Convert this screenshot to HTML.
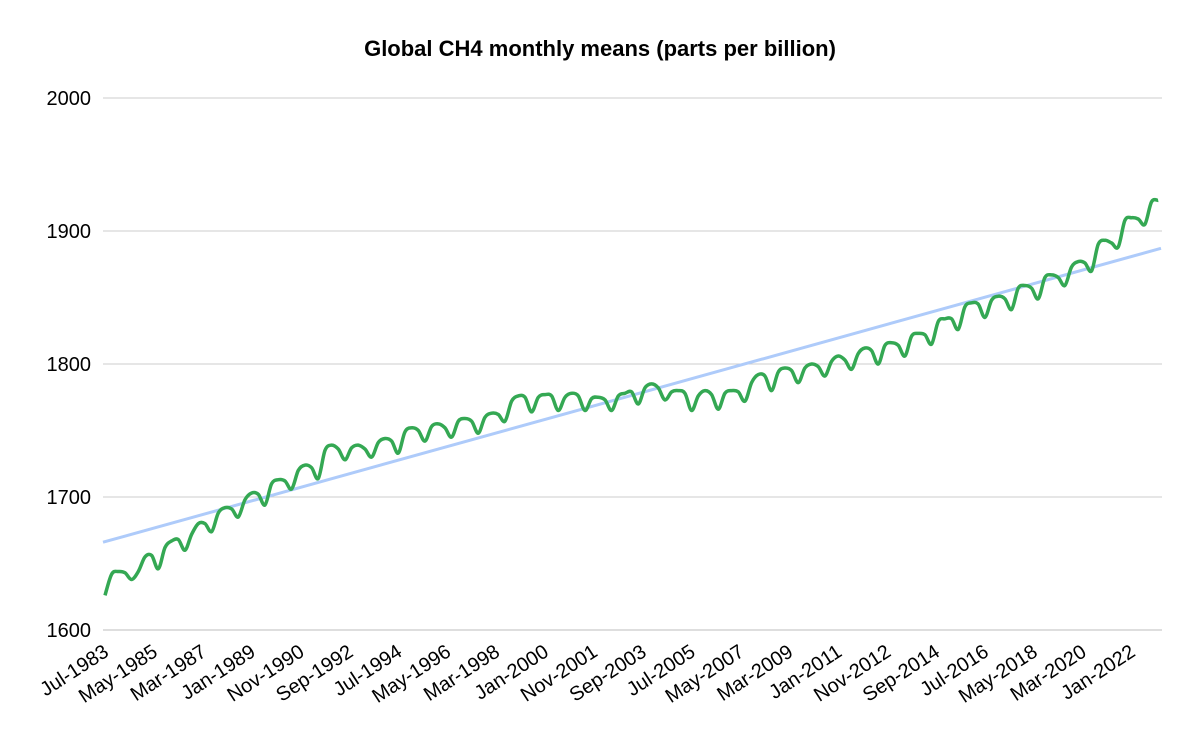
<!DOCTYPE html>
<html><head><meta charset="utf-8"><style>
html,body{margin:0;padding:0;background:#fff;}
svg{display:block;font-family:"Liberation Sans",Arial,sans-serif;}
</style></head><body>
<svg id="chart" width="1200" height="742" viewBox="0 0 1200 742">
<text x="600" y="56" text-anchor="middle" font-size="22" font-weight="bold" fill="#000">Global CH4 monthly means (parts per billion)</text>
<g id="grid"></g>
<g id="ylab"></g>
<g id="xlab"></g>
<g id="series"></g>
</svg>
<script>
const yTicks=[1600,1700,1800,1900,2000];
const xLabels=["Jul-1983","May-1985","Mar-1987","Jan-1989","Nov-1990","Sep-1992","Jul-1994","May-1996","Mar-1998","Jan-2000","Nov-2001","Sep-2003","Jul-2005","May-2007","Mar-2009","Jan-2011","Nov-2012","Sep-2014","Jul-2016","May-2018","Mar-2020","Jan-2022"];
// quarterly samples (Jan, Apr, Jul, Oct) starting Jul-1983
const ch4Values=[1626,1642,
1644,1643,1638,1644, 1655,1656,1646,1662, 1667,1668,1660,1672, 1680,1680,1674,1688,
1692,1691,1685,1698, 1703,1702,1694,1710, 1713,1712,1706,1720, 1724,1722,1714,1735,
1739,1736,1728,1737, 1739,1736,1730,1741, 1744,1742,1733,1749, 1752,1750,1742,1753,
1755,1752,1745,1757, 1759,1757,1748,1760, 1763,1762,1757,1772, 1776,1775,1764,1775,
1777,1776,1765,1775, 1778,1776,1765,1774, 1775,1773,1765,1776, 1778,1779,1770,1782,
1785,1782,1773,1779, 1780,1778,1765,1776, 1780,1777,1766,1778, 1780,1779,1772,1786,
1792,1791,1780,1794, 1797,1795,1786,1797, 1800,1798,1791,1802, 1806,1803,1796,1808,
1812,1810,1800,1814, 1816,1814,1806,1821, 1823,1822,1815,1832, 1834,1834,1826,1843,
1846,1845,1835,1848, 1851,1849,1841,1857, 1859,1857,1849,1865, 1867,1865,1859,1873,
1877,1876,1870,1890, 1893,1891,1888,1908, 1910,1909,1905,1922, 1923];
const trendValues=[1666,1887];
const NS="http://www.w3.org/2000/svg";
const X0=105,PXM=2.222,Y0=630,PPB=1.33;
function xm(m){return X0+m*PXM;}
function yv(v){return Y0-(v-1600)*PPB;}
const grid=document.getElementById('grid'),ylab=document.getElementById('ylab'),xlab=document.getElementById('xlab'),ser=document.getElementById('series');
yTicks.forEach(t=>{
 const l=document.createElementNS(NS,'line');
 
 
 l.setAttribute('x1',103);l.setAttribute('x2',1162);l.setAttribute('y1',yv(t));l.setAttribute('y2',yv(t));
 l.setAttribute('stroke',t===1600?'#bdbdbd':'#cccccc');l.setAttribute('stroke-width',1);
 grid.appendChild(l);
 const tx=document.createElementNS(NS,'text');
 
 
 tx.setAttribute('x',91);tx.setAttribute('y',yv(t)+7);tx.setAttribute('text-anchor','end');tx.setAttribute('font-size','20');
 tx.textContent=t;ylab.appendChild(tx);
});
xLabels.forEach((s,i)=>{
 const x=xm(i*22);
 const tx=document.createElementNS(NS,'text');
 
 
 tx.setAttribute('transform','translate('+(x+5)+',655) rotate(-33)');
 tx.setAttribute('text-anchor','end');tx.setAttribute('font-size','20');
 tx.textContent=s;xlab.appendChild(tx);
});
const tr=document.createElementNS(NS,'line');


tr.setAttribute('x1',103);tr.setAttribute('y1',yv(trendValues[0]));tr.setAttribute('x2',1161);tr.setAttribute('y2',yv(trendValues[1]));
tr.setAttribute('stroke','#aecbfa');tr.setAttribute('stroke-width',3);
ser.appendChild(tr);
const pts=ch4Values.map((v,i)=>[xm(i*3),yv(v)]);
let d='M'+pts[0][0].toFixed(1)+','+pts[0][1].toFixed(1);
for(let i=0;i<pts.length-1;i++){
 const p0=pts[Math.max(0,i-1)],p1=pts[i],p2=pts[i+1],p3=pts[Math.min(pts.length-1,i+2)];
 const c1=[p1[0]+(p2[0]-p0[0])/6,p1[1]+(p2[1]-p0[1])/6],c2=[p2[0]-(p3[0]-p1[0])/6,p2[1]-(p3[1]-p1[1])/6];
 d+='C'+c1[0].toFixed(1)+','+c1[1].toFixed(1)+' '+c2[0].toFixed(1)+','+c2[1].toFixed(1)+' '+p2[0].toFixed(1)+','+p2[1].toFixed(1);
}
const pl=document.createElementNS(NS,'path');


pl.setAttribute('d',d);pl.setAttribute('fill','none');pl.setAttribute('stroke','#34a853');pl.setAttribute('stroke-width',3.5);pl.setAttribute('stroke-linejoin','round');
ser.appendChild(pl);
</script>
</body></html>
